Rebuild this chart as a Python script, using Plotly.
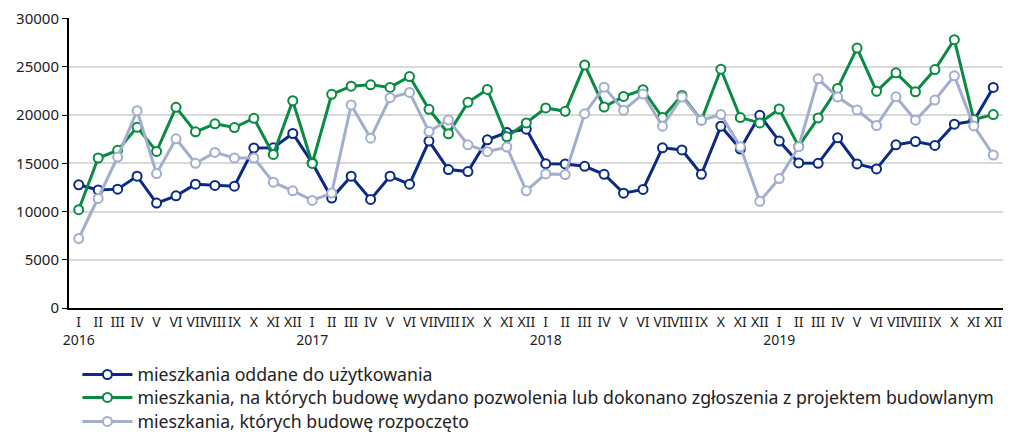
import plotly.graph_objects as go

months = ["I", "II", "III", "IV", "V", "VI", "VII", "VIII", "IX", "X", "XI", "XII"]
years = ["2016", "2017", "2018", "2019"]

oddane = [12780, 12250, 12330, 13670, 10880, 11640, 12840, 12710, 12640, 16600, 16620, 18100,
          15050, 11400, 13670, 11260, 13670, 12840, 17310, 14360, 14150, 17450, 18200, 18550,
          14970, 14940, 14700, 13870, 11910, 12300, 16620, 16390, 13870, 18860, 16490, 19990,
          17310, 15050, 15010, 17650, 14940, 14430, 16930, 17270, 16860, 19070, 19410, 22880]

pozwolenia = [10200, 15560, 16350, 18760, 16240, 20820, 18270, 19100, 18720, 19680, 15930, 21500,
              14990, 22160, 23010, 23150, 22880, 24010, 20610, 18070, 21330, 22670, 17760, 19200,
              20750, 20400, 25210, 20850, 21950, 22640, 19750, 22050, 19480, 24770, 19750, 19200,
              20640, 16760, 19720, 22780, 26960, 22470, 24390, 22430, 24730, 27830, 19550, 20060]

rozpoczeto = [7210, 11370, 15660, 20470, 13940, 17550, 15010, 16140, 15560, 15560, 13050, 12160,
              11160, 11920, 21060, 17620, 21810, 22360, 18300, 19510, 16930, 16210, 16700, 12160,
              13910, 13840, 20160, 22910, 20510, 22190, 18860, 21880, 19480, 20060, 16730, 11060,
              13430, 16730, 23770, 21880, 20540, 18920, 21910, 19480, 21570, 24080, 18890, 15870]

names = ["mieszkania oddane do użytkowania",
         "mieszkania, na których budowę wydano pozwolenia lub dokonano zgłoszenia z projektem budowlanym",
         "mieszkania, których budowę rozpoczęto"]
colors = ["#0B2A83", "#0A8A42", "#A3AECF"]
legend_ids = ["legend", "legend2", "legend3"]
legend_y = [-0.231, -0.310, -0.393]

ytick_vals = [0, 5000, 10000, 15000, 20000, 25000, 30000]
ytick_text = ["0", "5000", "10000", "15000", "20000", "25000", "30000"]

x = list(range(len(years) * len(months)))
ticktext = []
for y in years:
    for i, m in enumerate(months):
        ticktext.append(f"{m}<br>{y}" if i == 0 else m)

fig = go.Figure()
for name, vals, col, lid in zip(names, [oddane, pozwolenia, rozpoczeto], colors, legend_ids):
    fig.add_trace(go.Scatter(
        x=x, y=vals, name=name, mode="lines+markers", legend=lid,
        line=dict(color=col, width=3),
        marker=dict(symbol="circle", size=9, color="white", line=dict(color=col, width=2)),
    ))

legend_style = dict(orientation="v", x=0.009, xanchor="left", yanchor="middle",
                    font=dict(size=17.7, color="#222222"), itemwidth=50,
                    bgcolor="rgba(0,0,0,0)", borderwidth=0)
fig.update_layout(
    width=1003, height=426,
    margin=dict(l=61, r=8, t=10, b=126, autoexpand=False),
    paper_bgcolor="white", plot_bgcolor="white",
    font=dict(family="Noto Sans", size=14, color="#222222"),
    showlegend=True,
    legend=dict(y=legend_y[0], **legend_style),
    legend2=dict(y=legend_y[1], **legend_style),
    legend3=dict(y=legend_y[2], **legend_style),
)
fig.update_xaxes(
    range=[-0.5, len(x) - 0.5], tickmode="array", tickvals=x, ticktext=ticktext,
    showgrid=False, showline=True, linecolor="black", linewidth=2,
    ticks="", tickangle=0, tickfont=dict(size=14), zeroline=False,
    ticklabeloverflow="allow", automargin=False,
)
fig.update_yaxes(
    range=[0, 30080], tickmode="array", tickvals=ytick_vals, ticktext=ytick_text,
    showgrid=True, gridcolor="#D9D9D9", gridwidth=1.5,
    showline=True, linecolor="black", linewidth=2, ticks="outside", ticklen=5,
    tickcolor="black", tickfont=dict(size=15), zeroline=False, automargin=False,
    ticklabeloverflow="allow",
)

fig.write_html("out.html")
